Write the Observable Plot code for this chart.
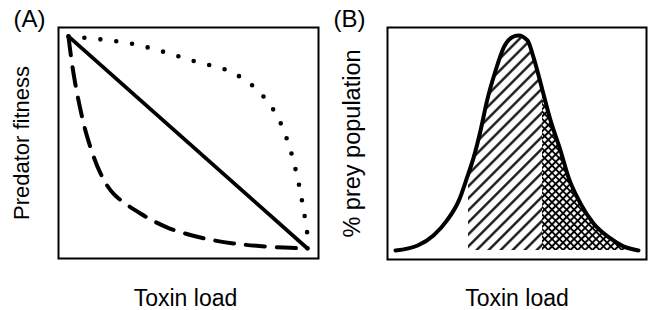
<!DOCTYPE html>
<html><head><meta charset="utf-8">
<script src="https://cdn.jsdelivr.net/npm/d3@7"></script>
<script src="https://cdn.jsdelivr.net/npm/@observablehq/plot@0.6"></script>
<style>
body{margin:0;background:#fff;}
#wrap{display:flex;width:648px;height:310px;}
</style></head><body><div id="wrap"></div>
<script>
// ---------- Panel A: predator fitness vs toxin load ----------
const solidX = [0, 1];
const solidY = [1, 0];
const dottedX = [0, 0.134, 0.272, 0.402, 0.536, 0.665, 0.774, 0.862, 0.916, 0.954, 0.979, 1.0, 1.0];
const dottedY = [1, 0.986, 0.964, 0.926, 0.880, 0.840, 0.764, 0.646, 0.509, 0.354, 0.212, 0.057, 0];
const dashedX = [0, 0.017, 0.042, 0.079, 0.134, 0.188, 0.301, 0.414, 0.552, 0.690, 0.833, 1.0];
const dashedY = [1.0, 0.854, 0.698, 0.524, 0.354, 0.259, 0.165, 0.099, 0.052, 0.024, 0.009, 0];
// ---------- Panel B: % prey population vs toxin load ----------
const preyX = [0, 0.091, 0.156, 0.212, 0.261, 0.295, 0.322, 0.350, 0.377, 0.412, 0.446, 0.480, 0.506, 0.543, 0.568, 0.605, 0.638, 0.679, 0.712, 0.761, 0.815, 0.885, 0.938, 1.0];
const preyY = [0, 0.023, 0.070, 0.140, 0.233, 0.341, 0.434, 0.558, 0.698, 0.837, 0.946, 0.992, 1.0, 0.977, 0.898, 0.744, 0.605, 0.465, 0.340, 0.219, 0.126, 0.056, 0.019, 0];
const hatchStart = 0.30;   // start of single hatching
const crossStart = 0.605;  // start of cross hatching
const hatchEnd = 1.04;
// ---------- Labels ----------
const panelLabels = ["(A)", "(B)"];
const xLabel = "Toxin load";
const yLabels = ["Predator fitness", "% prey population"];

const FONT = "'Liberation Sans', Arial, Helvetica, sans-serif";
const ns = "http://www.w3.org/2000/svg";

function pts(xs, ys) { return xs.map((x, i) => ({x, y: ys[i]})); }

function clipTo(x0, x1, id) {
  return (index, scales, values, dims, ctx, next) => {
    const g = next(index, scales, values, dims, ctx);
    const defs = document.createElementNS(ns, "defs");
    const cp = document.createElementNS(ns, "clipPath");
    cp.setAttribute("id", id);
    const r = document.createElementNS(ns, "rect");
    const a = scales.x(x0), b = scales.x(x1);
    r.setAttribute("x", a);
    r.setAttribute("width", b - a);
    r.setAttribute("y", dims.marginTop);
    r.setAttribute("height", dims.height - dims.marginTop - dims.marginBottom);
    cp.appendChild(r); defs.appendChild(cp); g.appendChild(defs);
    g.setAttribute("clip-path", `url(#${id})`);
    return g;
  };
}

function addPattern(svg, id, spacing, angle, width) {
  let defs = svg.querySelector("defs.patterns");
  if (!defs) {
    defs = document.createElementNS(ns, "defs");
    defs.setAttribute("class", "patterns");
    svg.insertBefore(defs, svg.firstChild);
  }
  const p = document.createElementNS(ns, "pattern");
  p.setAttribute("id", id);
  p.setAttribute("patternUnits", "userSpaceOnUse");
  p.setAttribute("width", spacing);
  p.setAttribute("height", spacing);
  p.setAttribute("patternTransform", `rotate(${angle})`);
  const l = document.createElementNS(ns, "line");
  l.setAttribute("x1", spacing / 2); l.setAttribute("x2", spacing / 2);
  l.setAttribute("y1", -1); l.setAttribute("y2", spacing + 1);
  l.setAttribute("stroke", "black");
  l.setAttribute("stroke-width", width);
  p.appendChild(l); defs.appendChild(p);
}

const textCommon = {fontSize: 23, fill: "black"};

// Panel A
const chartA = Plot.plot({
  width: 324, height: 310,
  marginLeft: 58, marginRight: 6, marginTop: 27, marginBottom: 52,
  style: {fontFamily: FONT, background: "white", overflow: "visible"},
  x: {domain: [-0.0418, 1.046], axis: null},
  y: {domain: [-0.047, 1.042], axis: null},
  marks: [
    Plot.frame({stroke: "black", strokeWidth: 2}),
    Plot.line(pts(solidX, solidY), {x: "x", y: "y", stroke: "black", strokeWidth: 3.8}),
    Plot.line(pts(dashedX, dashedY), {x: "x", y: "y", stroke: "black", strokeWidth: 4, curve: "catmull-rom", strokeDasharray: "19 12"}),
    Plot.line(pts(dottedX, dottedY), {x: "x", y: "y", stroke: "black", strokeWidth: 4.6, curve: "catmull-rom", strokeDasharray: "0 16", strokeLinecap: "round"}),
    Plot.text([panelLabels[0]], {frameAnchor: "top-left", textAnchor: "start", lineAnchor: "middle", dx: -45, dy: -8, ...textCommon, fontSize: 24}),
    Plot.text([yLabels[0]], {frameAnchor: "left", rotate: -90, textAnchor: "middle", lineAnchor: "middle", dx: -36.5, ...textCommon, fontSize: 22}),
    Plot.text([xLabel], {frameAnchor: "bottom", textAnchor: "middle", lineAnchor: "bottom", dx: -3, dy: 47, ...textCommon})
  ]
});

// Panel B
const prey = pts(preyX, preyY);
const chartB = Plot.plot({
  width: 324, height: 310,
  marginLeft: 63, marginRight: 2, marginTop: 27, marginBottom: 51,
  style: {fontFamily: FONT, background: "white", overflow: "visible"},
  x: {domain: [-0.033, 1.033], axis: null},
  y: {domain: [-0.042, 1.037], axis: null},
  marks: [
    Plot.areaY(prey, {x: "x", y: "y", curve: "monotone-x", fill: "url(#hatchL)", render: clipTo(hatchStart, crossStart, "clipL")}),
    Plot.areaY(prey, {x: "x", y: "y", curve: "monotone-x", fill: "url(#crossA)", render: clipTo(crossStart, hatchEnd, "clipR1")}),
    Plot.areaY(prey, {x: "x", y: "y", curve: "monotone-x", fill: "url(#crossB)", render: clipTo(crossStart, hatchEnd, "clipR2")}),
    Plot.frame({stroke: "black", strokeWidth: 2}),
    Plot.line(prey, {x: "x", y: "y", curve: "monotone-x", stroke: "black", strokeWidth: 4}),
    Plot.text([panelLabels[1]], {frameAnchor: "top-left", textAnchor: "start", lineAnchor: "middle", dx: -54, dy: -8, ...textCommon, fontSize: 24}),
    Plot.text([yLabels[1]], {frameAnchor: "left", rotate: -90, textAnchor: "middle", lineAnchor: "middle", dx: -35, ...textCommon, fontSize: 23.5}),
    Plot.text([xLabel], {frameAnchor: "bottom", textAnchor: "middle", lineAnchor: "bottom", dy: 46, ...textCommon})
  ]
});
addPattern(chartB, "hatchL", 8.5, 45, 2.2);
addPattern(chartB, "crossA", 5.2, 45, 2);
addPattern(chartB, "crossB", 5.2, -45, 1.7);

document.getElementById("wrap").append(chartA, chartB);
</script></body></html>
